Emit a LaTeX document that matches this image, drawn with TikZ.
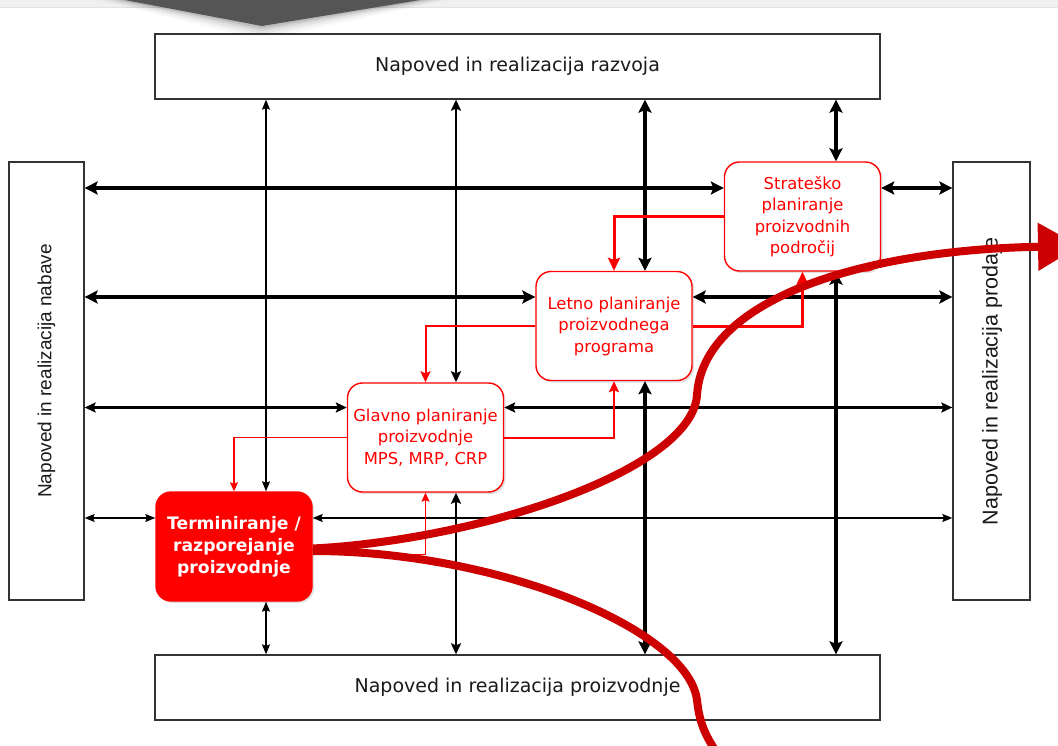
\documentclass[tikz,border=0pt]{standalone}
\usepackage{fontspec}
\setmainfont{DejaVu Sans}
\newfontfamily\arialf{Liberation Sans}
\usetikzlibrary{arrows.meta,shadows,calc}
\definecolor{bred}{HTML}{FF0000}
\definecolor{dred}{HTML}{CC0000}
\definecolor{boxline}{HTML}{333333}
\definecolor{txtdark}{HTML}{1A1A1A}
\definecolor{bandgray}{HTML}{F0F0F0}
\definecolor{bandline}{HTML}{E2E2E2}
\definecolor{chev}{HTML}{555555}
\begin{document}
\begin{tikzpicture}[x=1pt,y=-1pt,
  plainbox/.style={draw=boxline,line width=1.3pt,fill=white,inner sep=0pt,text=txtdark,
    font=\fontsize{19}{23}\selectfont},
  sidebox/.style={draw=boxline,line width=1.3pt,fill=white,inner sep=0pt},
  sidelabel/.style={inner sep=0pt,text=txtdark},
  planbox/.style={draw=bred,line width=1.4pt,fill=white,rounded corners=15pt,inner sep=0pt,
    text=bred,align=center,font=\fontsize{16.4}{21.5}\selectfont,
    minimum width=156pt,minimum height=109pt,
    drop shadow={shadow xshift=2pt,shadow yshift=-2pt,opacity=0.25}},
  termbox/.style={planbox,fill=bred,text=white,font=\bfseries\fontsize{17.2}{22}\selectfont},
  blkA/.style={line width=3.2pt,black,
    arrows={Stealth[length=13pt,width=13pt,inset=2.5pt]-Stealth[length=13pt,width=13pt,inset=2.5pt]}},
  blkB/.style={line width=2.2pt,black,
    arrows={Stealth[length=11pt,width=10pt,inset=2pt]-Stealth[length=11pt,width=10pt,inset=2pt]}},
  blkC/.style={line width=1.2pt,black,
    arrows={Stealth[length=10pt,width=8pt,inset=1.5pt]-Stealth[length=10pt,width=8pt,inset=1.5pt]}},
  redA/.style={line width=3pt,bred,arrows={-Stealth[length=13pt,width=12pt,inset=2pt]}},
  redB/.style={line width=2pt,bred,arrows={-Stealth[length=11pt,width=10pt,inset=2pt]}},
  redC/.style={line width=1.1pt,bred,arrows={-Stealth[length=9pt,width=8pt,inset=1.5pt]}},
  bigcurve/.style={line width=8pt,dred},
]
\useasboundingbox (0,0) rectangle (1058,746);
\clip (0,0) rectangle (1058,746);
\fill[white] (0,0) rectangle (1058,746);
\fill[bandgray] (0,0) rectangle (1058,7);
\draw[bandline,line width=1pt] (0,7.5) -- (1058,7.5);
% chevron with soft shadow
\foreach \d/\o in {14/0.025,11/0.035,8/0.05,5/0.07,2.5/0.1}{
  \fill[black,opacity=\o] ({125-2*\d},0) -- ({420+2*\d},0) -- (262,{26+\d}) -- cycle;
}
\fill[chev] (125,0) -- (420,0) -- (262,26) -- cycle;

% outer boxes
\node[plainbox,minimum width=725pt,minimum height=65pt] (Tp) at (517.5,66.5) {Napoved in realizacija razvoja};
\node[plainbox,minimum width=725pt,minimum height=65pt] (Bt) at (517.5,687.5) {Napoved in realizacija proizvodnje};
\node[sidebox,minimum width=75pt,minimum height=438pt] (Lf) at (46.5,381) {};
\node[sidebox,minimum width=77pt,minimum height=438pt] (Rt) at (991.5,381) {};
\node[sidelabel,rotate=90,font=\arialf\fontsize{19}{23}\selectfont] (Lft) at (46.5,371) {Napoved in realizacija nabave};
\node[sidelabel,rotate=90,font=\arialf\fontsize{21.5}{25}\selectfont] (Rtt) at (992,381) {Napoved in realizacija prodaje};

% planning boxes
\node[planbox] (S) at (802.5,216.5) {Strateško\\planiranje\\proizvodnih\\področij};
\node[planbox] (L) at (614,326) {Letno planiranje\\proizvodnega\\programa};
\node[planbox] (G) at (425.5,437.5) {Glavno planiranje\\proizvodnje\\MPS, MRP, CRP};
\node[termbox] (T) at (234,546.5) {Terminiranje /\\razporejanje\\proizvodnje};

% horizontal rows
\coordinate (s1) at ([yshift=28.5pt]S.west);
\coordinate (s1r) at ([yshift=28.5pt]S.east);
\coordinate (l1) at ([yshift=29pt]L.west);
\coordinate (l1r) at ([yshift=29pt]L.east);
\coordinate (g1) at ([yshift=30pt]G.west);
\coordinate (g1r) at ([yshift=30pt]G.east);
\coordinate (t1) at ([yshift=28.5pt]T.west);
\coordinate (t1r) at ([yshift=28.5pt]T.east);
\draw[blkA] (s1 -| Lf.east) -- (s1);
\draw[blkA] (s1r) -- (s1r -| Rt.west);
\draw[blkA] (l1 -| Lf.east) -- (l1);
\draw[blkA] (l1r) -- (l1r -| Rt.west);
\draw[blkB] (g1 -| Lf.east) -- (g1);
\draw[blkB] (g1r) -- (g1r -| Rt.west);
\draw[blkC] (t1 -| Lf.east) -- (t1);
\draw[blkC] (t1r) -- (t1r -| Rt.west);

% verticals
\coordinate (sv) at ([xshift=33.5pt]S.north);
\coordinate (sw) at ([xshift=33.5pt]S.south);
\coordinate (lv) at ([xshift=31pt]L.north);
\coordinate (lw) at ([xshift=31pt]L.south);
\coordinate (gv) at ([xshift=30.5pt]G.north);
\coordinate (gw) at ([xshift=30.5pt]G.south);
\coordinate (tv) at ([xshift=32pt]T.north);
\coordinate (tw) at ([xshift=32pt]T.south);
\draw[blkA] (sv |- Tp.south) -- (sv);
\draw[blkA] (sw) -- (sw |- Bt.north);
\draw[blkA] (lv |- Tp.south) -- (lv);
\draw[blkA] (lw) -- (lw |- Bt.north);
\draw[blkB] (gv |- Tp.south) -- (gv);
\draw[blkB] (gw) -- (gw |- Bt.north);
\draw[blkC] (tv |- Tp.south) -- (tv);
\draw[blkC] (tw) -- (tw |- Bt.north);

% red planning connectors
\draw[redA] (S.west) -| (L.north);
\draw[redA] (L.east) -| (S.south);
\draw[redB] (L.west) -| (G.north);
\draw[redB] (G.east) -| (L.south);
\draw[redC] (G.west) -| (T.north);
\coordinate (te) at ([yshift=-8pt]T.east);
\draw[redC] (te) -| (G.south);

% big curves
\coordinate (upend) at (1080,246);
\coordinate (downend) at (724,764);
\draw[bigcurve,arrows={-Triangle[length=42pt,width=46pt]}] ([yshift=-2pt]T.east) .. controls (480,540) and (692,470) .. (697,395) .. controls (703,300) and (860,250) .. (upend);
\draw[bigcurve] ([yshift=-4.5pt]T.east) .. controls (500,551) and (688,630) .. (697,700) .. controls (700,730) and (710,742) .. (downend);
\end{tikzpicture}
\end{document}
